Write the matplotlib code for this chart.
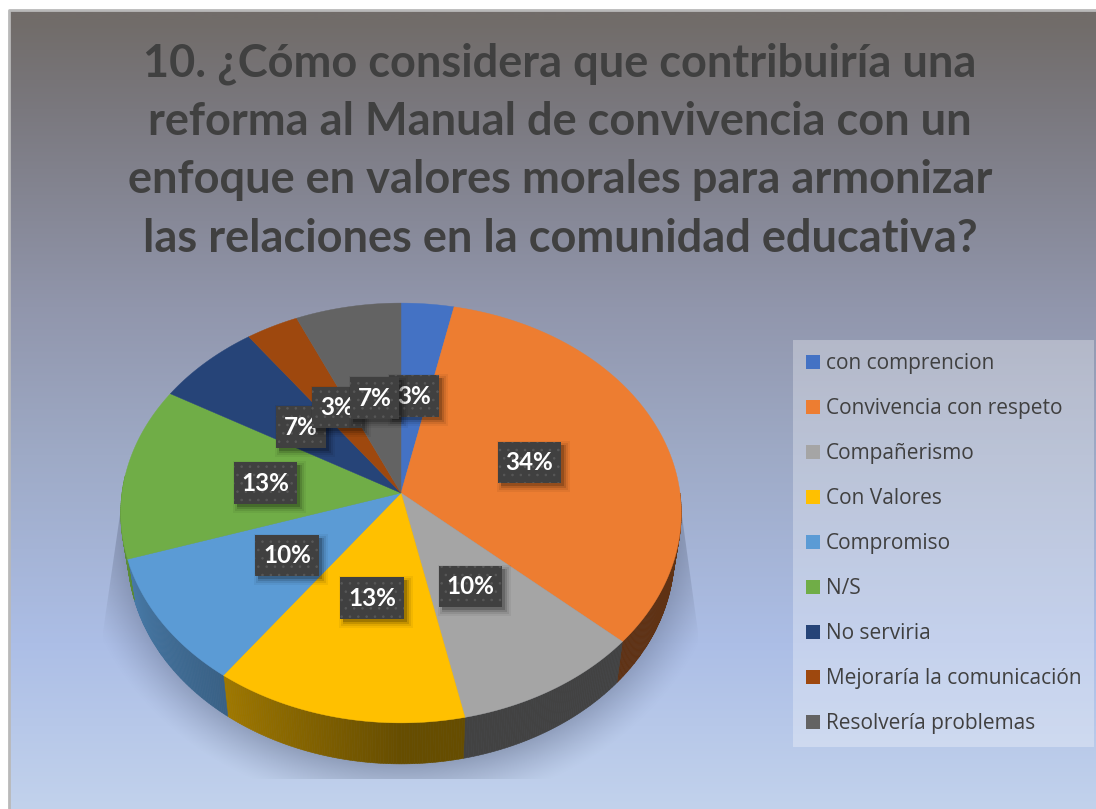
import numpy as np
import matplotlib
matplotlib.use('Agg')
import matplotlib.pyplot as plt
from matplotlib.colors import to_rgb
from matplotlib.patches import Patch, Polygon, Rectangle

title = ('10. ¿Cómo considera que contribuiría una\n'
         'reforma al Manual de convivencia con un\n'
         'enfoque en valores morales para armonizar\n'
         'las relaciones en la comunidad educativa?')
categories = ['con comprencion', 'Convivencia con respeto', 'Compañerismo', 'Con Valores',
              'Compromiso', 'N/S', 'No serviria', 'Mejoraría la comunicación', 'Resolvería problemas']
counts = [1, 10, 3, 4, 3, 4, 2, 1, 2]
pct_labels = ['3%', '34%', '10%', '13%', '10%', '13%', '7%', '3%', '7%']
colors = ['#4472C4', '#ED7D31', '#A5A5A5', '#FFC000', '#5B9BD5', '#70AD47', '#264478', '#9E480E', '#636363']
# cajas de las etiquetas en pixeles: x0, x1, y0, y1
label_boxes = [(389, 439, 375, 417), (498, 561, 442, 483), (439, 502, 566, 607),
               (340, 404, 577, 619), (255, 319, 535, 576), (234, 297, 462, 504),
               (276, 326, 406, 448), (312, 362, 387, 428), (350, 399, 377, 419)]

W, H = 1096, 809
CX, CY = 401, 493
RX, RY, K = 279, 208, 0.0952
DEPTH = 41


def project(angle):
    # angulo en grados desde arriba, sentido horario, con perspectiva
    a = np.radians(angle)
    u, v = np.sin(a), np.cos(a)
    s = 1 / (1 + K * v)
    return CX + RX * u * s, CY - RY * v * s


def project_low(angle):
    x, y = project(angle)
    return CX + (x - CX) * 0.975, y + DEPTH


def side_shade(angle):
    return np.interp(angle, [90, 180, 215, 255, 275], [0.4, 0.4, 0.62, 0.8, 0.85])


fig = plt.figure(figsize=(W / 100, H / 100), dpi=100)
ax = fig.add_axes([0, 0, 1, 1])
ax.set_xlim(0, W)
ax.set_ylim(H, 0)
ax.axis('off')

# fondo degradado
stop_y = [10, 100, 300, 450, 640, 809]
stop_c = np.array([(113, 108, 105), (122, 120, 126), (145, 150, 172),
                   (158, 170, 198), (172, 190, 230), (194, 210, 236)]) / 255
ys = np.arange(H)
grad = np.stack([np.interp(ys, stop_y, stop_c[:, i]) for i in range(3)], axis=1)[:, None, :]
ax.imshow(grad, extent=(9, 1096, H, 10), aspect='auto', zorder=0)
ax.plot([9, 9, 1096], [H, 10, 10], color='#b9b9b9', lw=2, zorder=1)
ax.set_xlim(0, W)
ax.set_ylim(H, 0)

# sombra bajo la torta
xx, yy = np.meshgrid(np.arange(90, 710), np.arange(450, 790))
r = np.sqrt(((xx - CX) / 272) ** 2 + ((yy - 530) / 234) ** 2)
shade = np.clip((1.2 - r) / 0.25, 0, 1) ** 1.3 * 0.5
shadow = np.zeros(xx.shape + (4,))
shadow[..., :3] = np.array([70, 80, 105]) / 255
shadow[..., 3] = shade
im = ax.imshow(shadow, extent=(90, 710, 790, 450), aspect='auto', zorder=2)
clip = Polygon([(125, 480), (103, 632), (103, 779), (698, 779), (698, 632), (677, 480)],
               transform=ax.transData, fc='none', ec='none')
ax.add_patch(clip)
im.set_clip_path(clip)
ax.set_xlim(0, W)
ax.set_ylim(H, 0)

# porciones
shares = np.array(counts) / sum(counts) * 360
ends = np.cumsum(shares)
starts = ends - shares

for a0, a1, c in zip(starts, ends, colors):
    lo, hi = max(a0, 90), min(a1, 275)
    if hi <= lo:
        continue
    edges = np.linspace(lo, hi, int((hi - lo) * 2) + 2)
    for e0, e1 in zip(edges[:-1], edges[1:]):
        ang = np.linspace(e0, e1, 3)
        tx, ty = project(ang)
        bx, by = project_low(ang)
        col = np.array(to_rgb(c)) * side_shade((e0 + e1) / 2)
        ax.fill(np.r_[tx, bx[::-1]], np.r_[ty, by[::-1]], color=tuple(col), lw=0.4, zorder=3)

for a0, a1, c in zip(starts, ends, colors):
    ang = np.linspace(a0, a1, 120)
    px, py = project(ang)
    ax.fill(np.r_[CX, px], np.r_[CY, py], color=c, lw=0.3, zorder=4)

# etiquetas de datos
plt.rcParams['hatch.linewidth'] = 0.6
for i, (lab, (x0, x1, y0, y1)) in enumerate(zip(pct_labels, label_boxes)):
    z = 5 + i * 0.1
    for off, grow, alpha in [(4, 5, 0.05), (4, 3, 0.08), (4, 1, 0.12), (3, 0, 0.18)]:
        ax.add_patch(Rectangle((x0 + off - grow, y0 + off - grow), x1 - x0 + 2 * grow, y1 - y0 + 2 * grow,
                               fc='black', ec='none', alpha=alpha, zorder=z))
    ax.add_patch(Rectangle((x0, y0), x1 - x0, y1 - y0, fc='#404040', ec='#585858', lw=0,
                           hatch='..', zorder=z + 0.01))
    ax.text((x0 + x1) / 2, (y0 + y1) / 2, lab, color='white', fontsize=17.5, fontweight='bold',
            family='Lato', ha='center', va='center', zorder=z + 0.02)

ax.text(560, 151, title, ha='center', va='center', fontsize=32.5, fontweight='bold',
        family='Lato', color='#404040', linespacing=1.478, zorder=6)

handles = [Patch(fc=c, ec='none') for c in colors]
leg = ax.legend(handles, categories, loc='upper left', bbox_to_anchor=(793, 340),
                bbox_transform=ax.transData, borderaxespad=0, borderpad=0.62,
                prop={'family': 'Open Sans', 'size': 15}, labelcolor='#404040',
                handlelength=0.67, handleheight=0.67, handletextpad=0.29, labelspacing=1.154,
                fancybox=False, facecolor='white', edgecolor='none', framealpha=0.3)
leg.set_zorder(5)

fig.savefig('out.png', dpi=100)
